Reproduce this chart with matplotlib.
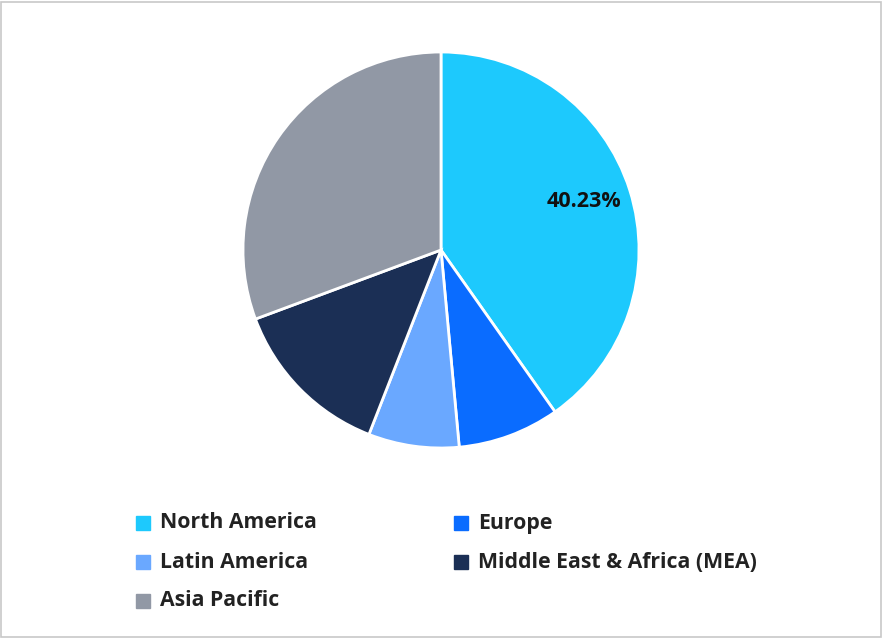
import matplotlib

matplotlib.use("Agg")

import matplotlib.pyplot as plt
from matplotlib.patches import Rectangle

regions = ["North America", "Europe", "Latin America", "Middle East & Africa (MEA)", "Asia Pacific"]
shares = [40.23, 8.3, 7.4, 13.4, 30.67]
colors = ["#1DC9FD", "#0A6CFF", "#6AA8FF", "#1B2F55", "#9198A5"]

W, H = 883, 638
fig = plt.figure(figsize=(W / 100, H / 100), dpi=100)
fig.patch.set_facecolor("white")
fig.add_artist(Rectangle((0.001, 0.002), 0.997, 0.995, transform=fig.transFigure,
                         fill=False, edgecolor="#c8c8c8", linewidth=1.2))

ax = fig.add_axes([(441 - 198) / W, 1 - (250 + 198) / H, 396 / W, 396 / H])
wedges, _ = ax.pie(shares, colors=colors, startangle=90, counterclock=False,
                   wedgeprops=dict(edgecolor="white", linewidth=2))
ax.set_xlim(-1, 1)
ax.set_ylim(-1, 1)
ax.set_aspect("equal")
ax.text(0.72, 0.245, f"{shares[0]:.2f}%", ha="center", va="center",
        fontsize=15.5, fontweight="bold", color="#111111", family="Open Sans")

# legend, laid out by hand in two columns
slots = [(143, 523), (461, 523), (143, 562), (461, 562), (143, 601)]
for (x, y), name, c in zip(slots, regions, colors):
    fig.add_artist(Rectangle(((x - 7) / W, 1 - (y + 7) / H), 14 / W, 14 / H,
                             transform=fig.transFigure, color=c))
    fig.text((x + 17) / W, 1 - y / H, name, ha="left", va="center",
             fontsize=15.3, fontweight="bold", color="#222222", family="Open Sans")

fig.savefig("out.png", dpi=100)
